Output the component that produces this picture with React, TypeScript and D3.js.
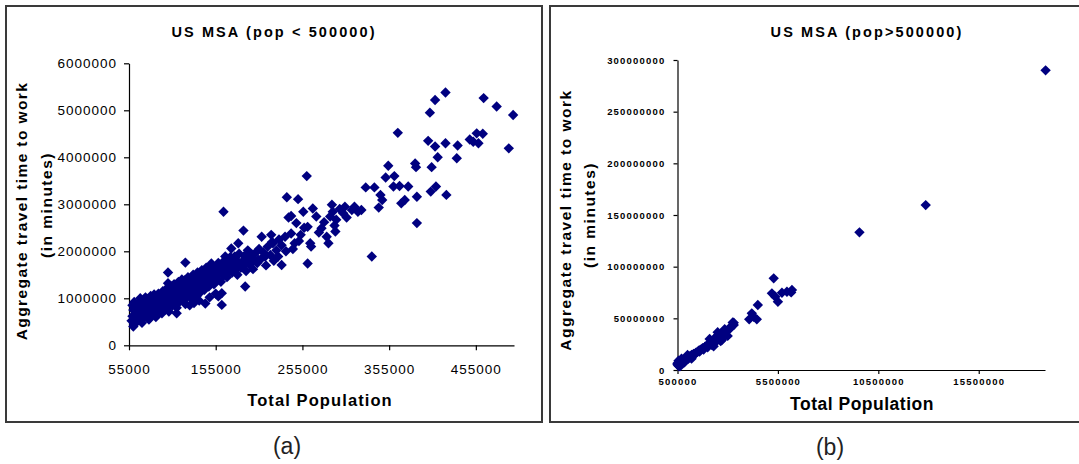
import * as d3 from "d3";
import { useEffect, useRef } from "react";

// MSAs under 500000 people: [population in thousands, travel time in millions of minutes]
const smallMsaPoints: [number, number][] = [
    // scattered upper end
    [420, 5.38], [408, 5.22], [402, 4.95], [464, 5.26], [479, 5.08], [498, 4.9],
    [493, 4.19], [365, 4.52], [400, 4.35], [408, 4.23], [420, 4.3], [434, 4.25],
    [433, 3.98], [448, 4.38], [456, 4.51], [463, 4.5], [452, 4.33], [458, 4.3],
    [411, 4.0], [404, 3.79], [385, 3.87], [386, 3.79], [409, 3.38], [403, 3.27],
    [421, 3.2], [387, 3.16], [387, 2.6], [354, 3.82], [351, 3.57], [361, 3.6],
    [345, 3.2], [347, 3.09], [343, 2.93], [360, 3.38], [367, 3.39], [377, 3.38],
    [373, 3.09], [369, 3.02], [328, 3.36], [338, 3.36], [335, 1.89], [315, 2.95],
    [323, 2.88], [319, 2.84], [304, 2.95], [302, 2.81], [289, 2.99], [290, 2.84],
    [287, 2.74], [294, 2.67], [293, 2.42], [283, 2.31], [285, 2.17], [277, 2.49],
    [260, 3.6], [250, 3.11], [237, 3.15], [239, 2.72], [242, 2.75], [256, 2.84],
    [267, 2.91], [271, 2.74], [261, 2.52], [264, 2.17], [265, 2.1], [261, 1.74],
    [253, 2.35], [242, 2.38], [235, 2.31], [246, 2.17], [231, 2.13], [219, 2.35],
    [221, 2.17], [227, 1.89], [231, 1.71], [208, 2.31], [187, 2.44], [164, 2.84],
    [120, 1.76], [100, 1.55], [100, 1.32], [162, 0.86], [189, 1.25], [198, 1.93],
    [204, 1.82], [212, 1.89], [181, 2.17], [173, 2.06], [177, 1.89], [166, 1.89],
    [150, 1.74], [143, 1.6], [162, 1.11], [158, 1.04], [110, 0.68], [143, 0.89],
    [298, 2.9], [306, 2.72], [312, 2.88], [292, 2.55], [280, 2.62], [274, 2.4],
    [244, 2.05], [251, 2.22], [236, 2.0], [228, 2.25], [257, 2.5], [248, 2.6],
    // dense lower cluster
    [58, 0.52], [59, 0.62], [60, 0.75], [61, 0.45], [62, 0.58], [63, 0.7],
    [64, 0.8], [60, 0.4], [62, 0.66], [64, 0.5], [66, 0.55], [67, 0.72],
    [68, 0.88], [69, 0.62], [70, 0.48], [71, 0.78], [72, 0.95], [68, 1.0],
    [70, 0.67], [72, 0.58], [74, 0.63], [75, 0.85], [76, 0.98], [77, 0.72],
    [78, 0.55], [79, 0.9], [80, 1.05], [76, 0.68], [80, 0.78], [78, 0.82],
    [82, 0.66], [83, 0.93], [84, 0.8], [85, 1.02], [86, 0.6], [87, 0.75],
    [88, 0.88], [89, 1.1], [90, 0.7], [84, 1.08], [91, 0.82], [92, 0.95],
    [93, 0.68], [94, 1.15], [95, 0.88], [96, 1.02], [97, 0.76], [98, 1.2],
    [99, 0.92], [100, 1.05], [101, 0.72], [102, 1.12], [103, 0.98], [104, 1.25],
    [105, 0.85], [106, 1.08], [107, 1.3], [108, 0.95], [109, 1.18], [110, 0.8],
    [111, 1.05], [112, 1.35], [113, 0.92], [114, 1.22], [115, 1.1], [116, 1.4],
    [117, 0.98], [118, 1.28], [119, 1.15], [120, 0.88], [121, 1.32], [122, 1.02],
    [123, 1.45], [124, 1.18], [125, 1.08], [126, 1.38], [127, 1.25], [128, 0.98],
    [129, 1.5], [130, 1.15], [131, 1.3], [132, 1.42], [133, 1.05], [134, 1.55],
    [135, 1.22], [136, 1.35], [137, 1.12], [138, 1.48], [139, 1.6], [140, 1.28],
    [141, 1.4], [142, 1.18], [143, 1.52], [144, 1.65], [145, 1.32], [146, 1.45],
    [147, 1.25], [148, 1.58], [149, 1.7], [150, 1.38], [152, 1.5], [153, 1.3],
    [155, 1.62], [156, 1.42], [158, 1.75], [159, 1.55], [161, 1.35], [162, 1.68],
    [164, 1.48], [165, 1.8], [167, 1.6], [168, 1.45], [170, 1.72], [172, 1.88],
    [174, 1.55], [176, 1.68], [178, 1.82], [180, 1.5], [182, 1.95], [184, 1.65],
    [186, 1.78], [188, 1.9], [190, 1.58], [192, 2.02], [194, 1.72], [196, 1.85],
    [198, 1.62], [200, 1.95], [203, 1.75], [205, 2.05], [208, 1.85], [210, 1.98],
    [213, 1.7], [215, 2.1], [218, 1.92], [220, 2.2], [222, 1.8], [225, 2.02],
    [125, 0.85], [130, 0.9], [136, 0.95], [148, 1.02], [155, 1.1],
    [59, 0.85], [61, 0.92], [65, 0.68], [66, 0.9], [69, 0.78], [73, 0.88],
    [74, 1.02], [77, 0.95], [81, 0.88], [83, 0.72], [86, 0.98], [88, 0.66],
    [90, 1.0], [92, 0.78], [95, 1.1], [97, 0.98], [99, 0.8], [102, 0.9],
    [104, 1.05], [106, 0.92], [108, 1.2], [111, 0.9], [113, 1.15], [115, 1.3],
    [117, 1.18], [119, 1.38], [121, 1.1], [123, 1.25], [126, 1.15], [128, 1.4],
    [131, 1.05], [133, 1.35], [135, 1.45], [137, 1.3], [139, 1.2], [141, 1.55],
    [144, 1.35], [146, 1.58], [149, 1.48], [151, 1.6], [154, 1.42], [157, 1.68],
    [160, 1.58], [163, 1.75], [166, 1.52], [169, 1.65], [171, 1.58], [175, 1.78],
    [179, 1.62], [183, 1.75], [187, 1.68], [191, 1.82], [195, 1.95], [199, 1.8],
];

// MSAs over 500000 people: [population in millions, travel time in millions of minutes]
const largeMsaPoints: [number, number][] = [
    [18.83, 290], [12.86, 159.6], [9.56, 133.2], [5.29, 88.7], [5.2, 74.2],
    [5.5, 66], [5.37, 70.9], [5.7, 74.8], [5.95, 75.7], [6.16, 75.1], [6.2, 77.5],
    [4.5, 62.9], [4.2, 54.8], [4.07, 49], [4.45, 49], [4.29, 51.6], [3.3, 45.8],
    [3.13, 40.3], [2.88, 37], [2.63, 33.8], [2.71, 29], [2.38, 30.6], [2.22, 25.8],
    [1.88, 22.6], [1.63, 19.3], [1.39, 16.1], [1.14, 12.9], [0.89, 10.3],
    [0.64, 8.0], [0.5, 6.5], [0.56, 3.8],
    [0.5, 5.5], [0.52, 4.8], [0.55, 6.5], [0.58, 5.2], [0.6, 7.0], [0.62, 6.0],
    [0.65, 7.8], [0.68, 6.6], [0.7, 8.5], [0.72, 7.2], [0.75, 9.0], [0.78, 8.0],
    [0.8, 9.6], [0.83, 8.8], [0.86, 10.4], [0.9, 9.5], [0.93, 11.2], [0.97, 10.5],
    [1.0, 12.0], [1.05, 11.0], [1.1, 13.2], [1.15, 12.5], [1.2, 14.5], [1.25, 13.8],
    [1.3, 15.6], [1.35, 14.9], [1.42, 16.8], [1.5, 17.5], [1.55, 18.6], [1.6, 17.8],
    [1.68, 20.0], [1.75, 21.2], [1.8, 19.8], [1.88, 22.5], [1.95, 23.6], [2.0, 22.0],
    [2.08, 25.0], [2.15, 26.5], [2.2, 24.5], [2.28, 28.0], [2.35, 30.5], [2.4, 27.5],
    [2.45, 32.5], [2.5, 29.0], [2.55, 34.5], [2.6, 31.0], [2.68, 35.5], [2.75, 33.0],
    [2.8, 36.0], [2.9, 34.0], [3.0, 38.5], [3.1, 41.0], [3.25, 46.0], [3.3, 43.5],
    [0.55, 9.0], [0.7, 11.0], [0.62, 3.5], [0.85, 7.5], [1.0, 14.5], [1.2, 11.0],
    [2.3, 23.0], [2.5, 36.5], [2.1, 30.0], [2.65, 28.0], [2.85, 39.5], [3.0, 33.0],
];

const smallXTicks = [55000, 155000, 255000, 355000, 455000];
const smallYTicks = [0, 1000000, 2000000, 3000000, 4000000, 5000000, 6000000];
const largeXTicks = [500000, 5500000, 10500000, 15500000];
const largeYTicks = [0, 50000000, 100000000, 150000000, 200000000, 250000000, 300000000];

const titles = ["US MSA (pop < 500000)", "US MSA (pop>500000)"];
const xTitle = "Total Population";
const yTitleLines = ["Aggregate travel time to work", "(in minutes)"];
const captions = ["(a)", "(b)"];

const FONT = "Arial, 'Liberation Sans', sans-serif";
const NAVY = "#000080";

type Pt = { pop: number; time: number };

const panels = [
    {
        frame: { x: 6, y: 6, w: 536, h: 416 },
        plot: { left: 129, right: 514, top: 63.3, bottom: 345.3 },
        xDomain: [55000, 499000],
        yDomain: [0, 6000000],
        xTicks: smallXTicks,
        yTicks: smallYTicks,
        tickFont: { size: 13.5, weight: "normal", spacing: 1 },
        xTickPad: 14,
        yTickPad: 7,
        tickLen: 5,
        title: { x: 274, y: 36.5 },
        xTitle: { x: 320, y: 406, size: 16.5, spacing: 1.1 },
        yTitle: [
            { x: 26.6, y: 211, size: 15.5, spacing: 1.4 },
            { x: 51.5, y: 205, size: 15.5, spacing: 1.5 },
        ],
        caption: { x: 287, y: 454 },
    },
    {
        frame: { x: 550, y: 6, w: 532, h: 416 },
        plot: { left: 677.5, right: 1045, top: 60, bottom: 370 },
        xDomain: [500000, 18800000],
        yDomain: [0, 300000000],
        xTicks: largeXTicks,
        yTicks: largeYTicks,
        tickFont: { size: 9.5, weight: "bold", spacing: 1.2 },
        xTickPad: 4,
        yTickPad: 8,
        tickLen: 4,
        title: { x: 867, y: 36.5 },
        xTitle: { x: 862, y: 410, size: 17.5, spacing: 0.5 },
        yTitle: [
            { x: 570.5, y: 220, size: 15.5, spacing: 1.5 },
            { x: 594.5, y: 215, size: 15.5, spacing: 1.5 },
        ],
        caption: { x: 830, y: 455 },
    },
];

const App = () => {
    const svgRef = useRef<SVGSVGElement | null>(null);

    useEffect(() => {
        const svg = d3.select(svgRef.current);
        svg.selectAll("*").remove();

        const datasets: Pt[][] = [
            smallMsaPoints.map(([p, t]) => ({ pop: p * 1000, time: t * 1000000 })),
            largeMsaPoints.map(([p, t]) => ({ pop: p * 1000000, time: t * 1000000 })),
        ];

        panels.forEach((cfg, i) => {
            const g = svg.append("g");

            g.append("rect")
                .attr("x", cfg.frame.x)
                .attr("y", cfg.frame.y)
                .attr("width", cfg.frame.w)
                .attr("height", cfg.frame.h)
                .attr("fill", "white")
                .attr("stroke", "#3a3a3a")
                .attr("stroke-width", 2);

            const xScale = d3
                .scaleLinear()
                .domain(cfg.xDomain)
                .range([cfg.plot.left, cfg.plot.right]);
            const yScale = d3
                .scaleLinear()
                .domain(cfg.yDomain)
                .range([cfg.plot.bottom, cfg.plot.top]);

            const xAxis = d3
                .axisBottom(xScale)
                .tickValues(cfg.xTicks)
                .tickFormat(d3.format("d"))
                .tickSizeInner(cfg.tickLen)
                .tickSizeOuter(0)
                .tickPadding(cfg.xTickPad);
            const yAxis = d3
                .axisLeft(yScale)
                .tickValues(cfg.yTicks)
                .tickFormat(d3.format("d"))
                .tickSizeInner(cfg.tickLen)
                .tickSizeOuter(0)
                .tickPadding(cfg.yTickPad);

            const axes = [
                g.append("g")
                    .attr("transform", `translate(0, ${cfg.plot.bottom})`)
                    .call(xAxis),
                g.append("g")
                    .attr("transform", `translate(${cfg.plot.left}, 0)`)
                    .call(yAxis),
            ];
            axes.forEach((a) => {
                a.attr("font-family", FONT);
                a.selectAll("path, line").attr("stroke", "#000").attr("stroke-width", 1.2);
                a.selectAll("text")
                    .attr("fill", "#000")
                    .attr("font-size", cfg.tickFont.size)
                    .attr("font-weight", cfg.tickFont.weight)
                    .attr("letter-spacing", cfg.tickFont.spacing);
            });

            // diamond markers
            const r = 5.2;
            g.append("g")
                .selectAll("path")
                .data(datasets[i])
                .join("path")
                .attr("d", `M0,${-r}L${r},0L0,${r}L${-r},0Z`)
                .attr("transform", (d) => `translate(${xScale(d.pop)},${yScale(d.time)})`)
                .attr("fill", NAVY);

            g.append("text")
                .attr("x", cfg.title.x)
                .attr("y", cfg.title.y)
                .attr("text-anchor", "middle")
                .attr("font-family", FONT)
                .attr("font-size", 14.5)
                .attr("font-weight", "bold")
                .attr("letter-spacing", 2.1)
                .text(titles[i]);

            g.append("text")
                .attr("x", cfg.xTitle.x)
                .attr("y", cfg.xTitle.y)
                .attr("text-anchor", "middle")
                .attr("font-family", FONT)
                .attr("font-size", cfg.xTitle.size)
                .attr("font-weight", "bold")
                .attr("letter-spacing", cfg.xTitle.spacing)
                .text(xTitle);

            cfg.yTitle.forEach((pos, j) => {
                g.append("text")
                    .attr("transform", `translate(${pos.x}, ${pos.y}) rotate(-90)`)
                    .attr("text-anchor", "middle")
                    .attr("font-family", FONT)
                    .attr("font-size", pos.size)
                    .attr("font-weight", "bold")
                    .attr("letter-spacing", pos.spacing)
                    .text(yTitleLines[j]);
            });

            g.append("text")
                .attr("x", cfg.caption.x)
                .attr("y", cfg.caption.y)
                .attr("text-anchor", "middle")
                .attr("font-family", FONT)
                .attr("font-size", 23)
                .attr("fill", "#222")
                .text(captions[i]);
        });
    }, []);

    return (
        <svg
            ref={svgRef}
            width={1079}
            height={464}
            style={{ position: "absolute", left: 0, top: 0, background: "white" }}
        />
    );
};

export default App;
